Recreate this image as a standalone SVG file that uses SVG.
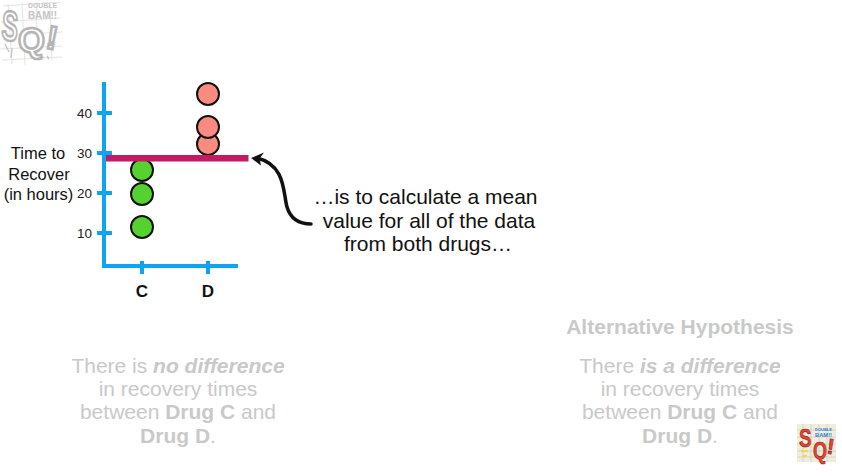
<svg xmlns="http://www.w3.org/2000/svg" width="842" height="476" viewBox="0 0 842 476">
<style>
text{font-family:"Liberation Sans",Arial,sans-serif}
.axis{stroke:#0ea4f4;stroke-width:4;fill:none}
.tick{font-size:13.500px;fill:#222;text-anchor:end}
.lab{font-size:16.500px;fill:#111;text-anchor:middle}
.cat{font-size:17px;font-weight:700;fill:#111;text-anchor:middle}
.call{font-size:21px;fill:#111;text-anchor:middle}
.faint{font-size:21px;fill:#c9c9c9;text-anchor:middle}
.b{font-weight:700}.bi{font-weight:700;font-style:italic}
.dot{stroke:#111;stroke-width:2}
.g{fill:#55d22f}.r{fill:#fb8a80}
.grid1{stroke:#e4e4e4;stroke-width:1;fill:none}
.grid2{stroke:#cfcbb4;stroke-width:.7;fill:none}
.lg{font-weight:700;fill:#fff;stroke:#b5b5b5;stroke-width:2.500}
.lr{font-weight:700;fill:#ee4030;stroke:#6a2a20;stroke-width:.6}
</style>
<rect width="842" height="476" fill="#fff"/>
<g id="logo-top">
<path class="grid1" d="M3 6L60 2M1 22L60 18M1 36L62 32M0 49L62 46M2 60L62 57M8 4L12 64M22 2L25 65M36 2L38 60M50 2L52 60"/>
<path d="M5 44L9 52M12 48L11 58M40 55L44 58M47 56L49 59" fill="none" stroke="#c8c8c8" stroke-width="1.500"/>
<text class="lg" font-size="42" transform="translate(1 39) scale(.58 1) rotate(6)">S</text>
<text class="lg" x="18" y="52" font-size="35" textLength="27" lengthAdjust="spacingAndGlyphs">Q</text>
<text class="lg" x="47" y="49" font-size="33" stroke-width="1.500" transform="rotate(10 52 35)">!</text>
<text x="28" y="8" font-size="7" font-weight="700" fill="#c4c4c4" textLength="29" lengthAdjust="spacingAndGlyphs">DOUBLE</text>
<text x="28" y="19" font-size="11" font-weight="700" fill="#c4c4c4" textLength="29" lengthAdjust="spacingAndGlyphs">BAM!!</text>
</g>
<g id="axes">
<path class="axis" d="M104 82V266H238"/>
<path class="axis" d="M97 113H112M97 153H112M97 193H112M97 233H112M142 261V274M208 261V274"/>
<text class="tick" x="92" y="118">40</text>
<text class="tick" x="92" y="158">30</text>
<text class="tick" x="92" y="198">20</text>
<text class="tick" x="92" y="238">10</text>
<text class="cat" x="142" y="297">C</text>
<text class="cat" x="208" y="297">D</text>
</g>
<g id="y-label">
<text class="lab" x="38" y="159">Time to</text>
<text class="lab" x="39" y="180">Recover</text>
<text class="lab" x="38.500" y="200">(in hours)</text>
</g>
<g id="drug-c-points">
<circle class="dot g" cx="142" cy="170" r="11"/>
<circle class="dot g" cx="142" cy="194" r="11"/>
<circle class="dot g" cx="142" cy="227" r="11"/>
</g>
<g id="drug-d-points">
<circle class="dot r" cx="208" cy="144" r="11"/>
<circle class="dot r" cx="208" cy="127" r="11"/>
<circle class="dot r" cx="208" cy="94" r="11"/>
</g>
<g id="mean-line"><rect x="106" y="155" width="142.500" height="6.500" fill="#c41a63"/></g>
<g id="connectors">
<path d="M311 224C297 224 290 217 287 207C283 193 286 165 257 158" fill="none" stroke="#111" stroke-width="3.500" stroke-linecap="round"/>
<path d="M251 158L264 152.500L259.500 158.500L261 165.500Z" fill="#111"/>
</g>
<g id="callout">
<text class="call" x="425.500" y="204">…is to calculate a mean</text>
<text class="call" x="429" y="228">value for all of the data</text>
<text class="call" x="428" y="251">from both drugs…</text>
</g>
<g id="null-hypothesis">
<text class="faint" x="178" y="373">There is <tspan class="bi">no difference</tspan></text>
<text class="faint" x="178" y="396">in recovery times</text>
<text class="faint" x="178" y="419">between <tspan class="b">Drug C</tspan> and</text>
<text class="faint" x="178" y="443"><tspan class="b">Drug D</tspan>.</text>
</g>
<g id="alternative-hypothesis">
<text class="faint b" x="680" y="334">Alternative Hypothesis</text>
<text class="faint" x="680" y="373">There <tspan class="bi">is a difference</tspan></text>
<text class="faint" x="680" y="396">in recovery times</text>
<text class="faint" x="680" y="419">between <tspan class="b">Drug C</tspan> and</text>
<text class="faint" x="680" y="443"><tspan class="b">Drug D</tspan>.</text>
</g>
<g id="logo-bottom">
<rect x="797" y="424" width="39" height="38" fill="#efeddd"/>
<path class="grid2" d="M797 430H836M797 437H836M797 444H836M797 451H836M797 457H836M803 424V462M811 424V462M819 424V462M827 424V462"/>
<path d="M801 451H808M802 456H807" stroke="#f0d85a" stroke-width="2" fill="none"/>
<text class="lr" font-size="26" transform="translate(799 447) scale(.72 1)">S</text>
<text class="lr" x="813" y="459" font-size="24" textLength="14" lengthAdjust="spacingAndGlyphs">Q</text>
<text class="lr" x="827" y="454" font-size="22" transform="rotate(8 830 446)">!</text>
<text x="815" y="431" font-size="4" font-weight="700" fill="#2f7fd0" textLength="17" lengthAdjust="spacingAndGlyphs">DOUBLE</text>
<text x="815" y="437" font-size="6" font-weight="700" fill="#2f7fd0" textLength="17" lengthAdjust="spacingAndGlyphs">BAM!!</text>
</g>
</svg>
